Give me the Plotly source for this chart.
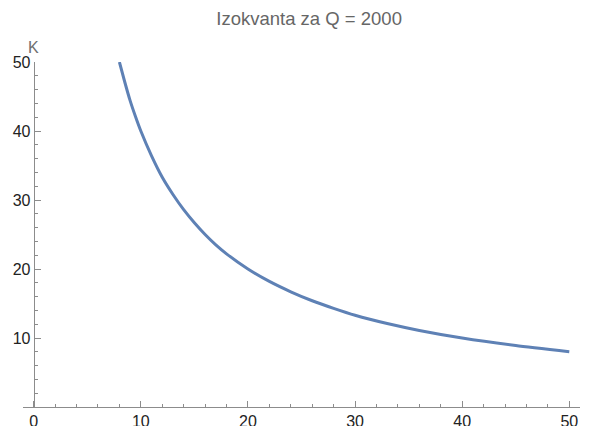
import plotly.graph_objects as go

# Values (isoquant points: L on x, K on y)
L_values = [8, 8.5, 9, 9.5, 10, 11, 12, 13, 14, 15, 16, 17, 18, 20, 22, 24, 26, 28, 30, 33, 36, 40, 45, 50]
K_values = [50, 47.1, 44.4, 42.1, 40, 36.4, 33.3, 30.8, 28.6, 26.7, 25, 23.5, 22.2, 20, 18.2, 16.7, 15.4,
            14.3, 13.3, 12.1, 11.1, 10, 8.9, 8]
x_ticks = [0, 10, 20, 30, 40, 50]
y_ticks = [10, 20, 30, 40, 50]
title_text = "Izokvanta za Q = 2000"
y_label = "K"

x_range = [-1, 51]
y_range = [0, 50]

fig = go.Figure()
fig.add_trace(go.Scatter(
    x=L_values, y=K_values, mode="lines",
    line=dict(color="#5E81B5", width=3, shape="spline", smoothing=0.6),
    hoverinfo="skip", showlegend=False,
))

axis_color = "#8c8c8c"
# page body adds an 8px offset, so the figure is sized to fit the 595x426 window
fig.update_layout(
    width=587, height=418,
    margin=dict(l=15, r=15, t=54, b=19, autoexpand=False),
    paper_bgcolor="white", plot_bgcolor="white",
    font=dict(family="Liberation Sans, Arial, sans-serif", color="#333333"),
    title=dict(text=title_text, x=0.513, xanchor="center", y=0.975, yanchor="middle",
               font=dict(size=18.5, color="#666666")),
    xaxis=dict(
        range=x_range, tickvals=x_ticks, showgrid=False, zeroline=False, automargin=False,
        showline=True, linecolor=axis_color, linewidth=1,
        ticks="inside", ticklen=6, tickcolor=axis_color, tickwidth=1,
        tickfont=dict(size=16, color="#222222"),
        minor=dict(dtick=2, ticks="inside", ticklen=3.5, tickcolor=axis_color, showgrid=False),
    ),
    yaxis=dict(
        range=y_range, tickvals=y_ticks, showgrid=False, zeroline=False, automargin=False,
        anchor="free", position=(0 - x_range[0]) / (x_range[1] - x_range[0]),
        showline=True, linecolor=axis_color, linewidth=1,
        ticks="inside", ticklen=6, tickcolor=axis_color, tickwidth=1,
        tickfont=dict(size=16, color="#222222"),
        minor=dict(dtick=2, ticks="inside", ticklen=3.5, tickcolor=axis_color, showgrid=False),
    ),
)

fig.add_annotation(
    text=y_label, xref="paper", yref="paper",
    x=(0 - x_range[0]) / (x_range[1] - x_range[0]), y=1.0, xanchor="center", yanchor="bottom",
    yshift=4, showarrow=False, font=dict(size=16, color="#707070"),
)

fig.write_html("out.html")
